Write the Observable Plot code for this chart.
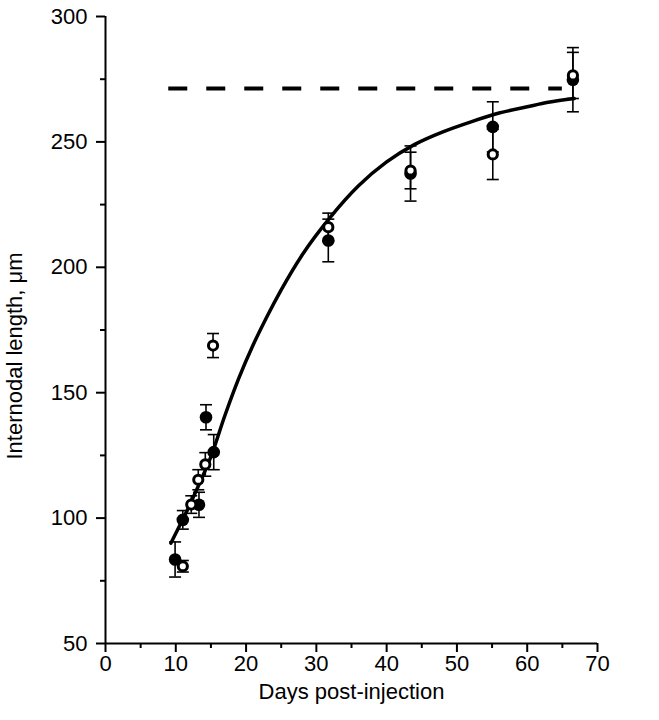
<!DOCTYPE html>
<html><head><meta charset="utf-8">
<script src="https://cdn.jsdelivr.net/npm/d3@7"></script>
<script src="https://cdn.jsdelivr.net/npm/@observablehq/plot@0.6"></script>
<style>
body{margin:0;background:#fff}
svg{font-family:"Liberation Sans",Arial,Helvetica,sans-serif}
</style>
</head><body><div id="chart"></div>
<script>
// Filled circles
const filledDay = [9.9, 11.0, 13.3, 14.3, 15.4, 31.7, 43.4, 55.1, 66.5];
const filledLen = [83.5, 99.3, 105.3, 140.2, 126.3, 210.7, 237.4, 256.0, 274.8];
const filledErr = [7, 3.7, 5, 5, 7, 8.5, 11, 10, 12.8];
// Open circles
const openDay = [11.0, 12.2, 13.2, 14.2, 15.3, 31.7, 43.4, 55.1, 66.5];
const openLen = [80.8, 105.4, 115.3, 121.4, 168.8, 216.0, 238.6, 245.0, 276.5];
const openErr = [2.3, 3.5, 4, 4.7, 4.8, 5.6, 7.3, 10, 9.2];
// Fitted curve
const curveDay = [9.3, 11, 13, 15, 17, 19, 21, 23, 25, 28, 32, 36, 40, 44, 48, 52, 56, 60, 63, 66.7];
const curveLen = [90, 99.5, 111.5, 124.5, 141, 156, 169, 180.5, 191, 205, 220, 232.5, 242, 249, 254, 258, 261.5, 264, 265.8, 267.3];
// Plateau (dashed)
const plateauDays = [9, 65];
const plateauLen = 271.3;
// Ticks
const xTicks = [0, 10, 20, 30, 40, 50, 60, 70];
const xMinor = [5, 15, 25, 35, 45, 55, 65];
const yTicks = [50, 100, 150, 200, 250, 300];
const yMinor = [75, 125, 175, 225, 275];
const xTitle = "Days post-injection";
const yTitle = "Internodal length, \u03bcm";

const filled = filledDay.map((d, i) => ({day: d, len: filledLen[i], lo: filledLen[i] - filledErr[i], hi: filledLen[i] + filledErr[i]}));
const open = openDay.map((d, i) => ({day: d, len: openLen[i], lo: openLen[i] - openErr[i], hi: openLen[i] + openErr[i]}));
const curve = curveDay.map((d, i) => ({day: d, len: curveLen[i]}));
const caps = [...filled, ...open].flatMap(p => [{day: p.day, len: p.lo}, {day: p.day, len: p.hi}]);

const capSymbol = {draw(ctx, size) { const r = Math.sqrt(size / Math.PI); ctx.moveTo(-r, 0); ctx.lineTo(r, 0); }};

const chart = Plot.plot({
  width: 659, height: 720,
  marginLeft: 105, marginRight: 62, marginTop: 16, marginBottom: 77,
  style: {fontFamily: "'Liberation Sans', Arial, sans-serif", fontSize: "22px", color: "black", background: "white"},
  x: {domain: [0, 70]},
  y: {domain: [50, 300]},
  marks: [
    Plot.axisX(xTicks, {tickSize: 9, tickPadding: 3, strokeWidth: 2, label: null, fontSize: 22}),
    Plot.axisX(xMinor, {tickSize: 5, strokeWidth: 2, tickFormat: () => "", label: null}),
    Plot.axisY(yTicks, {tickSize: 9, tickPadding: 9, strokeWidth: 2, label: null, fontSize: 22}),
    Plot.axisY(yMinor, {tickSize: 5, strokeWidth: 2, tickFormat: () => "", label: null}),
    Plot.ruleX([0], {strokeWidth: 2}),
    Plot.ruleY([50], {strokeWidth: 2}),
    Plot.ruleY([plateauLen], {x1: plateauDays[0], x2: plateauDays[1], y: d => d, strokeWidth: 4, strokeDasharray: "19,19"}),
    Plot.line(curve, {x: "day", y: "len", curve: "monotone-x", strokeWidth: 3.5}),
    Plot.ruleX([...filled, ...open], {x: "day", y1: "lo", y2: "hi", strokeWidth: 1.6}),
    Plot.dot(caps, {x: "day", y: "len", symbol: capSymbol, r: 6, stroke: "black", strokeWidth: 1.6}),
    Plot.dot(filled, {x: "day", y: "len", r: 6.3, fill: "black", stroke: "none"}),
    Plot.dot(open, {x: "day", y: "len", r: 4.6, fill: "white", stroke: "black", strokeWidth: 3}),
    Plot.text([xTitle], {frameAnchor: "bottom", dy: 55, fontSize: 22}),
    Plot.text([yTitle], {frameAnchor: "left", dx: -91, dy: 26, rotate: -90, textAnchor: "middle", fontSize: 22})
  ]
});
document.getElementById("chart").appendChild(chart);
</script>
</body></html>
